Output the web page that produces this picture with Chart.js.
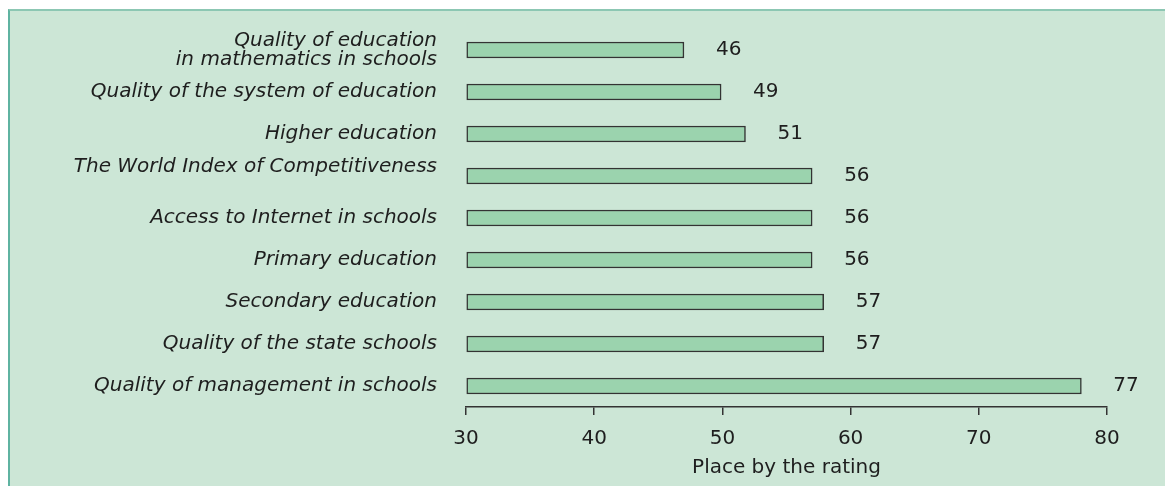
<!DOCTYPE html>
<html lang="en">
<head>
<meta charset="UTF-8">
<title>Place by the rating</title>
<script src="https://cdn.jsdelivr.net/npm/chart.js"></script>
<style>
  html, body { margin: 0; padding: 0; background: #fff; }
  #panel {
    position: absolute; left: 8px; top: 9px; width: 1157px; height: 477px;
    background: #cce6d6; border-left: 2px solid #5fb3a1; border-top: 2px solid #8cc7b3;
    box-sizing: border-box;
  }
  #wrap { position: absolute; left: 0; top: 0; width: 1165px; height: 486px; }
</style>
</head>
<body>
<div id="panel"></div>
<div id="wrap"><canvas id="chart"></canvas></div>

<script>
// categories, top to bottom
const categories = [
  ["Quality of education", "in mathematics in schools"],
  "Quality of the system of education",
  "Higher education",
  ["The World Index of Competitiveness", ""],
  "Access to Internet in schools",
  "Primary education",
  "Secondary education",
  "Quality of the state schools",
  "Quality of management in schools"
];
// bar lengths as drawn in the picture
const barValues = [47, 49.9, 51.8, 57, 57, 57, 57.9, 57.9, 78];
// printed numbers next to bars
const valueLabels = ["46", "49", "51", "56", "56", "56", "57", "57", "77"];
const xTicks = [30, 40, 50, 60, 70, 80];

const textColor = '#1e1e1e';
const font = 'DejaVu Sans';

// draws the number to the right of each bar
const valueLabelPlugin = {
  id: 'valueLabels',
  afterDatasetsDraw(chart) {
    const ctx = chart.ctx;
    const meta = chart.getDatasetMeta(0);
    ctx.save();
    ctx.font = '20px "' + font + '"';
    ctx.fillStyle = textColor;
    ctx.textAlign = 'left';
    ctx.textBaseline = 'middle';
    meta.data.forEach((bar, i) => {
      ctx.fillText(valueLabels[i], bar.x + 32, bar.y);
    });
    ctx.restore();
  }
};

new Chart(document.getElementById('chart'), {
  type: 'bar',
  data: {
    labels: categories,
    datasets: [{
      data: barValues,
      base: xTicks[0],
      backgroundColor: '#9bd3ae',
      borderColor: '#333',
      borderWidth: 1.5,
      borderSkipped: false,
      barThickness: 16
    }]
  },
  options: {
    indexAxis: 'y',
    responsive: true,
    maintainAspectRatio: false,
    animation: false,
    devicePixelRatio: 1,
    layout: { padding: { top: 29, right: 58, left: 0, bottom: 0 } },
    plugins: {
      legend: { display: false },
      tooltip: { enabled: false }
    },
    scales: {
      y: {
        grid: { display: false },
        border: { display: false },
        ticks: {
          color: textColor,
          padding: 21,
          autoSkip: false,
          font: { family: font, size: 20, style: 'italic', lineHeight: 0.95 }
        },
        afterFit(scale) {
          scale.width = 466;
          scale.paddingTop = 0;
          scale.paddingBottom = 0;
        }
      },
      x: {
        min: xTicks[0],
        max: xTicks[xTicks.length - 1],
        afterBuildTicks(scale) { scale.ticks = xTicks.map(v => ({ value: v })); },
        grid: {
          display: true,
          drawOnChartArea: false,
          drawTicks: true,
          tickLength: 8,
          color: '#333',
          lineWidth: 1.5
        },
        border: { display: true, color: '#333', width: 1.5 },
        ticks: {
          color: textColor,
          padding: 12,
          maxRotation: 0,
          autoSkip: false,
          font: { family: font, size: 20 }
        },
        title: {
          display: true,
          text: 'Place by the rating',
          color: textColor,
          padding: { top: 4, bottom: 6 },
          font: { family: font, size: 20 }
        },
        afterFit(scale) { scale.height = 79; }
      }
    }
  },
  plugins: [valueLabelPlugin]
});
</script>
</body>
</html>
